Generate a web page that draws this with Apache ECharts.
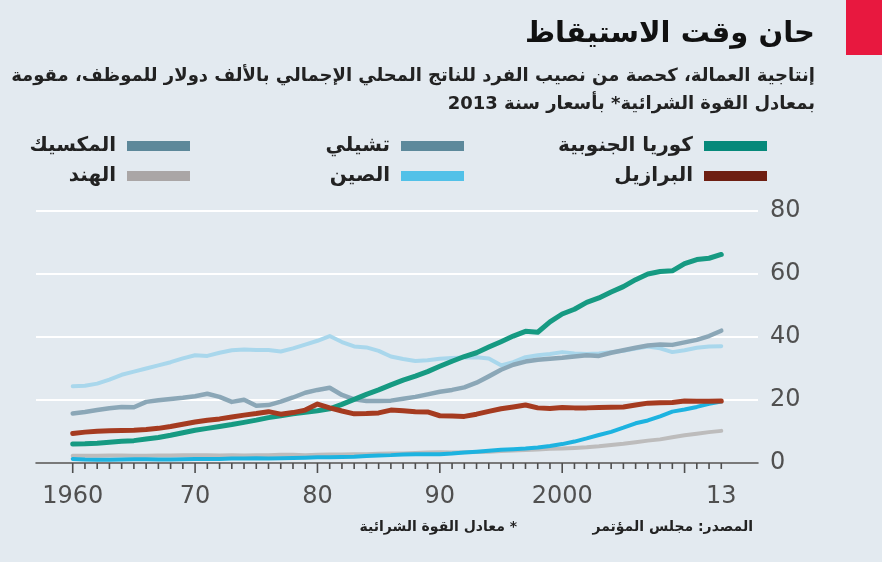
<!DOCTYPE html>
<html>
<head>
<meta charset="utf-8">
<script src="https://cdn.jsdelivr.net/npm/echarts@6/dist/echarts.min.js"></script>
<style>
  html, body { margin: 0; padding: 0; background: #e3eaf0; }
  #chart { width: 882px; height: 562px; }
</style>
</head>
<body>
<div id="chart"></div>
<script>
// years 1960 .. 2013
const years = [1960,1961,1962,1963,1964,1965,1966,1967,1968,1969,
               1970,1971,1972,1973,1974,1975,1976,1977,1978,1979,
               1980,1981,1982,1983,1984,1985,1986,1987,1988,1989,
               1990,1991,1992,1993,1994,1995,1996,1997,1998,1999,
               2000,2001,2002,2003,2004,2005,2006,2007,2008,2009,
               2010,2011,2012,2013];
const decadeTicks = [1960, 1970, 1980, 1990, 2000, 2010];
const labelYears = [1960, 1970, 1980, 1990, 2000, 2013];
const labelTexts = ['1960', '70', '80', '90', '2000', '13'];

// output per worker, $'000 (PPP, 2013 prices)
const korea  = [6.0,6.1,6.3,6.6,6.9,7.1,7.6,8.1,8.8,9.6,
                10.4,11.0,11.6,12.2,12.9,13.6,14.4,15.0,15.6,16.1,
                16.6,17.2,18.6,20.2,21.8,23.2,24.8,26.3,27.6,29.0,
                30.7,32.3,33.8,35.0,36.8,38.5,40.3,41.8,41.5,44.8,
                47.3,48.8,51.0,52.4,54.3,56.0,58.2,60.0,60.8,61.0,
                63.3,64.6,65.0,66.2];
const brazil = [9.4,9.8,10.1,10.2,10.3,10.4,10.6,11.0,11.6,12.3,
                13.0,13.6,14.0,14.6,15.2,15.7,16.3,15.5,16.0,16.8,
                18.7,17.5,16.5,15.6,15.7,15.9,16.8,16.6,16.3,16.2,
                15.0,14.9,14.8,15.5,16.4,17.2,17.8,18.4,17.5,17.3,
                17.6,17.5,17.5,17.6,17.7,17.8,18.4,19.0,19.1,19.2,
                19.7,19.6,19.6,19.7];
const chile  = [15.7,16.2,16.8,17.4,17.8,17.7,19.4,19.9,20.3,20.7,
                21.2,22.0,21.0,19.4,20.1,18.2,18.4,19.5,20.8,22.3,
                23.2,23.9,21.6,20.2,19.7,19.7,19.8,20.4,21.0,21.8,
                22.6,23.2,24.0,25.5,27.5,29.6,31.2,32.2,32.8,33.1,
                33.4,33.8,34.2,34.0,35.0,35.8,36.6,37.3,37.6,37.5,
                38.3,39.1,40.3,42.0];
const mexico = [24.4,24.5,25.2,26.5,28.0,29.0,30.0,31.0,32.0,33.2,
                34.2,34.0,35.0,35.8,36.0,35.9,35.9,35.4,36.4,37.6,
                38.8,40.3,38.4,37.0,36.7,35.6,33.8,33.0,32.4,32.6,
                33.1,33.3,33.5,33.6,33.2,31.0,32.0,33.6,34.2,34.6,
                35.2,34.8,34.6,34.8,35.2,35.6,36.3,37.0,36.4,35.2,
                35.8,36.6,37.0,37.1];
const china  = [1.3,1.1,1.0,1.0,1.1,1.2,1.2,1.1,1.1,1.2,
                1.3,1.3,1.3,1.4,1.4,1.5,1.4,1.5,1.6,1.7,
                1.8,1.8,1.9,2.0,2.2,2.4,2.5,2.7,2.8,2.8,
                2.8,3.0,3.3,3.6,3.9,4.2,4.4,4.6,4.9,5.4,
                6.0,6.8,7.8,8.9,9.9,11.2,12.6,13.5,14.8,16.3,
                17.0,17.8,18.8,19.5];
const india  = [2.3,2.3,2.3,2.4,2.4,2.3,2.3,2.4,2.4,2.5,
                2.5,2.5,2.4,2.5,2.4,2.5,2.5,2.6,2.6,2.5,
                2.6,2.7,2.7,2.8,2.8,2.9,3.0,3.0,3.2,3.3,
                3.4,3.3,3.4,3.5,3.6,3.8,4.0,4.1,4.3,4.5,
                4.6,4.8,5.0,5.3,5.7,6.1,6.6,7.1,7.5,8.2,
                8.8,9.3,9.8,10.2];

const RLE = '\u202B', PDF = '\u202C';
const AR = '"DejaVu Sans", sans-serif';
const NUM = '"DejaVu Sans", sans-serif';
const AXIS_GREY = '#4e4e4e';

function pairs(vals) {
  return years.map((y, i) => [y, vals[i]]);
}

function lineSeries(name, vals, color, width) {
  return {
    name: name,
    type: 'line',
    data: pairs(vals),
    symbol: 'none',
    showSymbol: false,
    lineStyle: { color: color, width: width, cap: 'round', join: 'round' },
    itemStyle: { color: color },
    emphasis: { disabled: true }
  };
}

function legendBlock(right, items) {
  return {
    right: right,
    top: 131,
    orient: 'vertical',
    align: 'right',
    icon: 'rect',
    itemWidth: 63,
    itemHeight: 10,
    itemGap: 10,
    selectedMode: false,
    textStyle: {
      fontFamily: AR, fontSize: 20, fontWeight: 'bold', color: '#222',
      padding: [0, 6, 0, 0]
    },
    data: items.map(it => ({ name: it[0], itemStyle: { color: it[1] } }))
  };
}

const headGraphics = [
  { type: 'rect', shape: { x: 846, y: 0, width: 36, height: 55 }, style: { fill: '#e8183f' } },
  { type: 'text', x: 815, y: 34,
    style: { text: 'حان وقت الاستيقاظ', font: 'bold 29px ' + AR, fill: '#111', align: 'right', verticalAlign: 'middle' } },
  { type: 'text', x: 815, y: 76,
    style: { text: RLE + 'إنتاجية العمالة، كحصة من نصيب الفرد للناتج المحلي الإجمالي بالألف دولار للموظف، مقومة' + PDF,
             font: 'bold 18px ' + AR, fill: '#222', align: 'right', verticalAlign: 'middle' } },
  { type: 'text', x: 815, y: 104,
    style: { text: RLE + 'بمعادل القوة الشرائية* بأسعار سنة 2013' + PDF,
             font: 'bold 18px ' + AR, fill: '#222', align: 'right', verticalAlign: 'middle' } },
  { type: 'text', x: 753, y: 527,
    style: { text: RLE + 'المصدر: مجلس المؤتمر' + PDF, font: 'bold 14px ' + AR, fill: '#222', align: 'right', verticalAlign: 'middle' } },
  { type: 'text', x: 517, y: 527,
    style: { text: RLE + '* معادل القوة الشرائية' + PDF, font: 'bold 14px ' + AR, fill: '#222', align: 'right', verticalAlign: 'middle' } }
];

const chart = echarts.init(document.getElementById('chart'));

const option = {
  backgroundColor: '#e3eaf0',
  animation: false,
  grid: { left: 36, right: 124, top: 211, bottom: 99 },
  legend: [
    legendBlock(110, [['كوريا الجنوبية', '#06897a'], ['البرازيل', '#6e1f12']]),
    legendBlock(413, [['تشيلي', '#5d899b'], ['الصين', '#52c1e8']]),
    legendBlock(687, [['المكسيك', '#5d889a'], ['الهند', '#aaa6a6']])
  ],
  xAxis: {
    type: 'value', min: 1957, max: 2016,
    axisLine: { show: true, lineStyle: { color: AXIS_GREY, width: 1.5 } },
    axisTick: { show: false },
    axisLabel: {
      customValues: labelYears,
      formatter: v => labelTexts[labelYears.indexOf(v)],
      fontFamily: NUM, fontSize: 24, color: '#505050', margin: 22
    },
    splitLine: { show: false }
  },
  yAxis: {
    type: 'value', position: 'right', min: 0, max: 80, interval: 20,
    axisLine: { show: false },
    axisTick: { show: false },
    axisLabel: { fontFamily: NUM, fontSize: 24, color: '#505050', margin: 12 },
    splitLine: { show: true, lineStyle: { color: '#ffffff', width: 2 } }
  },
  series: [
    lineSeries('الهند', india, '#bdbcbc', 4),
    lineSeries('المكسيك', mexico, '#a9d7ec', 4),
    lineSeries('تشيلي', chile, '#8ba7b7', 4.5),
    lineSeries('كوريا الجنوبية', korea, '#169a82', 5),
    lineSeries('الصين', china, '#1db3e0', 4),
    lineSeries('البرازيل', brazil, '#a53b20', 5)
  ],
  graphic: { elements: headGraphics }
};

chart.setOption(option);

// year ticks under the axis line, placed through the chart's own x scale;
// decades get a longer tick
const tickLines = years.map(y => {
  const p = chart.convertToPixel({ xAxisIndex: 0, yAxisIndex: 0 }, [y, 0]);
  const len = decadeTicks.indexOf(y) >= 0 ? 10 : 6;
  return {
    type: 'line', z: 100, silent: true,
    shape: { x1: p[0], y1: p[1], x2: p[0], y2: p[1] + len },
    style: { stroke: AXIS_GREY, lineWidth: 1.6 }
  };
});
chart.setOption({ graphic: { elements: headGraphics.concat(tickLines) } });
</script>
</body>
</html>
